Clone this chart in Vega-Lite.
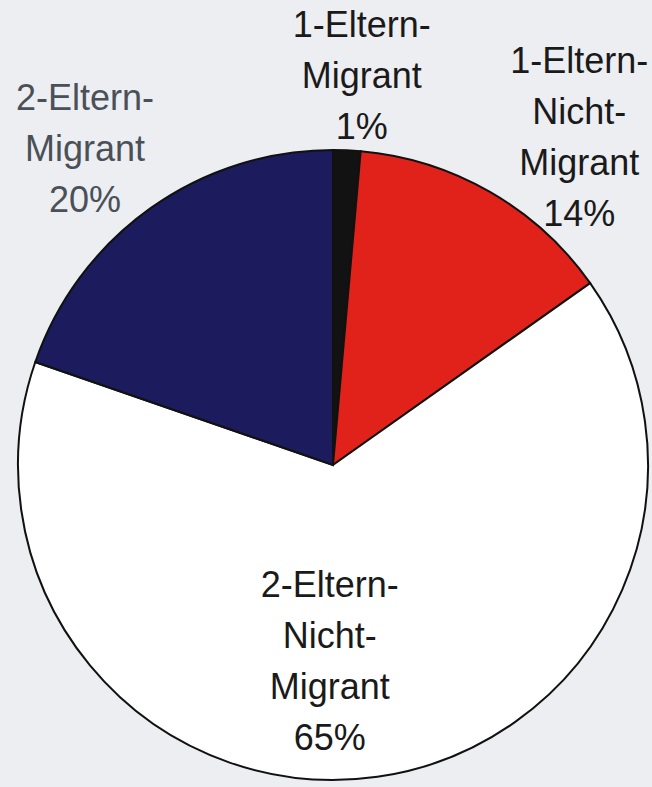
{
  "$schema": "https://vega.github.io/schema/vega-lite/v6.json",
  "width": 630,
  "height": 630,
  "autosize": {"type": "none"},
  "padding": {"left": 18, "top": 150, "right": 4, "bottom": 7},
  "background": "#eceef1",
  "view": {"stroke": null},
  "data": {
    "values": [
      {"cat": "1-Eltern-Migrant", "value": 1.4, "order": 1, "label": "1-Eltern-\nMigrant\n1%"},
      {"cat": "1-Eltern-Nicht-Migrant", "value": 13.8, "order": 2, "label": "1-Eltern-\nNicht-\nMigrant\n14%"},
      {"cat": "2-Eltern-Nicht-Migrant", "value": 65.1, "order": 3, "label": "2-Eltern-\nNicht-\nMigrant\n65%"},
      {"cat": "2-Eltern-Migrant", "value": 19.7, "order": 4, "label": "2-Eltern-\nMigrant\n20%"}
    ]
  },
  "encoding": {
    "theta": {"field": "value", "type": "quantitative", "stack": true},
    "order": {"field": "order", "type": "quantitative"}
  },
  "layer": [
    {
      "mark": {"type": "arc", "radius": 315, "stroke": "#111111", "strokeWidth": 2},
      "encoding": {
        "color": {
          "field": "cat",
          "type": "nominal",
          "scale": {
            "domain": ["1-Eltern-Migrant", "1-Eltern-Nicht-Migrant", "2-Eltern-Nicht-Migrant", "2-Eltern-Migrant"],
            "range": ["#121212", "#e0221b", "#ffffff", "#1b1b5e"]
          },
          "legend": null
        }
      }
    },
    {
      "mark": {"type": "text", "radius": 428, "dx": 10, "align": "center", "baseline": "alphabetic", "lineBreak": "\n", "lineHeight": 51, "fontSize": 36, "font": "Liberation Sans", "color": "#1a1a1a"},
      "encoding": {"text": {"condition": {"test": "datum.order === 1", "field": "label"}, "value": ""}}
    },
    {
      "mark": {"type": "text", "radius": 452, "dx": 21, "align": "center", "baseline": "alphabetic", "lineBreak": "\n", "lineHeight": 51, "fontSize": 36, "font": "Liberation Sans", "color": "#1a1a1a"},
      "encoding": {"text": {"condition": {"test": "datum.order === 2", "field": "label"}, "value": ""}}
    },
    {
      "mark": {"type": "text", "radius": 133, "dx": -22, "align": "center", "baseline": "alphabetic", "lineBreak": "\n", "lineHeight": 51, "fontSize": 36, "font": "Liberation Sans", "color": "#1a1a1a"},
      "encoding": {"text": {"condition": {"test": "datum.order === 3", "field": "label"}, "value": ""}}
    },
    {
      "mark": {"type": "text", "radius": 436, "dx": 5, "align": "center", "baseline": "alphabetic", "lineBreak": "\n", "lineHeight": 51, "fontSize": 36, "font": "Liberation Sans", "color": "#4a5058"},
      "encoding": {"text": {"condition": {"test": "datum.order === 4", "field": "label"}, "value": ""}}
    }
  ]
}
